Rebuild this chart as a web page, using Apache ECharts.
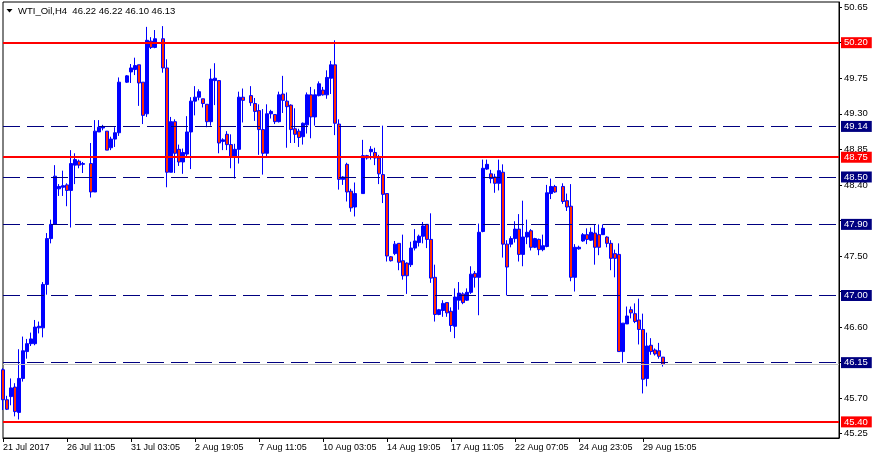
<!DOCTYPE html>
<html>
<head>
<meta charset="utf-8">
<script src="https://cdn.jsdelivr.net/npm/echarts@6/dist/echarts.min.js"></script>
<style>html,body{margin:0;padding:0;background:#fff}#c{width:879px;height:459px}</style>
</head>
<body>
<div id="c"></div>
<script>
// ---- data (H4 bars, left to right; null = no bar drawn) ----
const opens = [46.06,45.68,45.72,45.84,45.52,45.95,46.29,46.39,46.39,46.59,46.59,47.14,47.72,47.90,48.35,48.37,48.40,48.33,48.65,48.70,
48.66,null,48.67,48.31,49.07,49.12,49.08,48.87,48.98,49.06,null,49.70,49.83,49.86,49.92,49.70,49.30,50.22,50.14,null,
50.25,49.88,48.56,49.20,48.85,48.69,48.79,49.07,49.46,49.51,49.49,49.42,49.20,49.72,49.72,48.95,49.04,48.91,48.75,48.85,
49.51,null,49.53,49.43,49.34,49.10,48.80,49.30,49.29,49.20,49.55,49.46,49.41,49.11,49.08,49.01,49.16,49.54,49.26,49.53,
49.60,49.54,49.75,49.92,49.17,48.47,48.66,48.32,48.12,null,48.29,48.77,48.82,48.81,48.74,48.53,48.29,47.49,47.53,47.66,
47.44,47.41,47.39,47.60,47.67,47.75,47.90,47.71,47.23,46.76,46.81,46.91,46.80,46.61,46.94,47.02,46.94,47.04,47.28,47.23,
47.81,48.60,48.54,48.50,48.42,48.56,47.65,47.65,47.72,47.84,47.52,47.74,47.82,47.61,47.71,47.58,47.62,48.29,48.38,null,
48.38,48.20,48.13,47.23,47.59,47.69,47.77,47.70,47.79,47.77,47.77,47.74,47.66,47.53,47.52,46.29,46.64,46.82,46.77,46.69,
46.57,45.95,46.37,46.31,46.30,46.22];
const highs = [46.08,45.73,45.95,45.89,46.32,46.48,46.45,46.53,46.69,46.67,47.17,47.79,47.96,48.65,48.41,48.58,48.42,48.84,48.80,48.72,
48.69,null,48.93,49.22,49.22,49.16,49.08,49.01,49.13,49.76,null,49.79,49.93,50.01,49.92,49.70,50.40,50.27,50.36,null,
50.41,49.99,49.26,49.23,48.91,48.86,49.27,49.51,49.65,49.61,49.49,49.42,49.87,49.94,49.72,48.99,49.08,49.04,48.92,49.58,
49.62,null,49.65,49.50,49.42,49.36,49.42,49.35,49.29,49.58,49.78,49.57,49.42,49.37,49.11,49.19,49.57,49.64,49.61,49.71,
49.64,49.85,49.97,50.23,49.23,48.51,48.68,48.35,48.43,null,48.97,48.78,48.89,48.87,48.78,49.15,48.29,47.50,47.69,47.66,
47.77,47.42,47.68,47.84,47.77,47.93,47.90,48.04,47.39,46.83,46.94,46.91,46.85,47.09,47.17,47.04,47.09,47.37,47.31,47.91,
48.72,48.72,48.59,48.54,48.72,48.66,47.70,47.75,47.94,48.03,48.20,47.96,47.84,47.73,47.72,47.77,48.40,48.48,48.40,null,
48.42,48.29,48.41,47.65,47.63,47.79,47.85,47.86,47.90,47.90,47.90,47.75,47.70,47.58,47.66,46.65,46.86,46.86,46.90,46.96,
46.77,46.53,46.46,46.33,46.40,46.22];
const lows = [45.55,45.55,45.61,45.47,45.43,45.91,46.20,46.36,46.37,46.52,46.47,47.01,47.66,47.90,48.26,48.26,48.13,47.86,48.41,48.61,
48.55,null,48.24,48.31,49.07,49.09,48.84,48.84,48.88,49.02,null,49.69,49.69,49.79,49.40,49.17,49.26,50.12,50.13,null,
49.82,48.37,48.56,48.55,48.64,48.54,48.75,48.60,49.28,49.47,49.38,49.13,49.15,49.41,48.80,48.84,48.84,48.61,48.48,48.67,
49.19,null,49.40,49.21,48.78,48.53,48.75,49.24,49.17,49.19,49.31,48.87,48.93,48.93,48.88,48.91,49.05,48.99,49.15,49.52,
49.53,49.49,49.55,49.03,48.34,48.40,48.19,48.06,48.00,null,48.29,48.72,48.72,48.65,48.41,48.17,47.43,47.43,47.51,47.32,
47.20,47.02,47.36,47.57,47.62,47.66,47.60,47.16,46.67,46.75,46.73,46.73,46.54,46.46,46.82,46.89,46.93,47.02,47.10,46.75,
47.80,48.59,48.42,48.30,48.33,47.48,47.00,47.61,47.67,47.43,47.37,47.65,47.57,47.60,47.51,47.56,47.61,48.22,48.30,null,
48.16,48.07,47.18,47.05,47.58,47.68,47.65,47.69,47.39,47.51,47.77,47.61,47.32,47.23,46.29,46.15,46.64,46.71,46.65,46.38,
45.76,45.85,46.25,46.24,46.20,46.10];
const closes = [45.68,45.56,45.83,45.53,45.95,46.30,46.39,46.45,46.60,46.61,47.14,47.72,47.90,48.51,48.38,48.39,48.33,48.67,48.72,48.65,
48.67,null,48.31,49.08,49.13,49.14,48.84,48.98,49.06,49.70,null,49.78,49.88,49.91,49.69,49.28,50.23,50.14,50.25,null,
49.88,48.56,49.20,48.80,48.69,48.81,49.07,49.46,49.51,49.58,49.43,49.20,49.74,49.75,48.93,48.97,48.91,48.75,48.85,49.51,
49.47,null,49.44,49.33,49.10,48.80,49.30,49.33,49.20,49.54,49.47,49.39,49.10,49.04,49.00,49.18,49.54,49.26,49.54,49.68,
49.54,49.76,49.92,49.18,48.47,48.50,48.31,48.11,48.29,null,48.77,48.74,48.85,48.74,48.54,48.28,47.50,47.44,47.65,47.42,
47.25,47.25,47.60,47.69,47.75,47.88,47.71,47.22,46.76,46.82,46.90,46.78,46.62,46.98,47.03,46.91,47.04,47.27,47.23,47.80,
48.61,48.66,48.48,48.42,48.58,47.65,47.36,47.72,47.84,47.52,47.74,47.80,47.61,47.72,47.58,47.63,48.30,48.38,48.31,null,
48.19,48.12,47.23,47.61,47.61,47.77,47.71,47.80,47.61,47.61,47.85,47.66,47.47,47.47,46.29,46.65,46.74,46.78,46.67,46.57,
45.94,46.36,46.29,46.26,46.23,46.13];

const xTickLabels = ['21 Jul 2017','26 Jul 11:05','31 Jul 03:05','2 Aug 19:05','7 Aug 11:05','10 Aug 03:05',
  '14 Aug 19:05','17 Aug 11:05','22 Aug 07:05','24 Aug 23:05','29 Aug 15:05'];
const xTickEvery = 16;           // bars between time labels
const slotCount = 210;           // bar slots visible across the chart
const yTickValues = [45.25,45.70,46.15,46.60,47.05,47.50,47.95,48.40,48.85,49.30,49.75,50.20,50.65];
const redLevels = [50.20,48.75,45.40];
const dashedLevels = [49.14,48.50,47.90,47.00,46.15];
const bidPrice = 46.13;
const headerText = 'WTI_Oil,H4  46.22 46.22 46.10 46.13';
const yMin = 45.196, yMax = 50.715;

// ---- build ----
const FONT = '"Liberation Sans", Arial, sans-serif';
const categories = Array.from({length: slotCount}, (_, i) => String(i));
const candleData = opens.map((o, i) => o === null ? ['-','-','-','-'] : [o, closes[i], lows[i], highs[i]]);
const isTick = (i) => i % xTickEvery === 0 && i / xTickEvery < xTickLabels.length;
const allLevels = redLevels.concat(dashedLevels);
// scale labels lying under a level's price box are covered in the original
const coveredByBox = (v) => allLevels.some(l => Math.abs(l - v) < 0.06);

function levelLine(v, color, type, width, showLabel) {
  return {
    yAxis: v,
    lineStyle: {color: color, type: type, width: width},
    label: showLabel ? {
      show: true, position: 'end', distance: 2,
      formatter: v.toFixed(2), color: '#fff', backgroundColor: color,
      fontFamily: FONT, fontSize: 9.5, lineHeight: 10, padding: [1,4,0,3]
    } : {show: false}
  };
}

const markData = [levelLine(bidPrice, '#c0c0c0', 'solid', 1, false)]
  .concat(dashedLevels.map(v => levelLine(v, '#000080', [17,7], 1, true)))
  .concat(redLevels.map(v => levelLine(v, '#ff0000', 'solid', 2, true)));

const chart = echarts.init(document.getElementById('c'), null, {renderer: 'canvas'});
chart.setOption({
  animation: false,
  backgroundColor: '#fff',
  grid: {left: 3, right: 40, top: 2, bottom: 21, show: true, borderColor: '#000', borderWidth: 1,
         backgroundColor: 'transparent', containLabel: false, outerBoundsMode: 'none'},
  xAxis: {
    type: 'category', data: categories, boundaryGap: false,
    axisLine: {show: true, lineStyle: {color: '#000', width: 1}},
    axisTick: {show: true, interval: (i) => isTick(i), length: 4, lineStyle: {color: '#000'}},
    axisLabel: {show: true, interval: (i) => isTick(i), formatter: (v, i) => xTickLabels[i / xTickEvery] || '',
      align: 'left', margin: 5, color: '#000', fontFamily: FONT, fontSize: 9},
    splitLine: {show: false}
  },
  yAxis: {
    type: 'value', position: 'right', min: yMin, max: yMax, scale: true,
    axisLine: {show: true, lineStyle: {color: '#000', width: 1}},
    axisTick: {show: true, customValues: yTickValues, length: 3, lineStyle: {color: '#000'}},
    axisLabel: {show: true, customValues: yTickValues,
      formatter: (v) => coveredByBox(v) && Math.abs(v - 48.85) > 0.01 ? '' : v.toFixed(2),
      margin: 5, color: '#000', fontFamily: FONT, fontSize: 9.5, showMinLabel: true, showMaxLabel: true},
    splitLine: {show: false}
  },
  graphic: [
    {type: 'polygon', shape: {points: [[6.5,9],[12.5,9],[9.5,12.5]]}, style: {fill: '#000'}},
    {type: 'text', x: 18, y: 11, style: {text: headerText, font: '9.5px ' + FONT, fill: '#000', verticalAlign: 'middle'}}
  ],
  series: [
    {
      type: 'candlestick', data: candleData, barWidth: 3, large: false, progressive: 0,
      itemStyle: {color: '#0000ff', color0: '#ff2a00', borderColor: '#0000ff', borderColor0: '#0000ff', borderWidth: 1}
    },
    {
      type: 'line', data: [], z: 5, silent: true,
      markLine: {silent: true, symbol: ['none','none'], animation: false, data: markData}
    }
  ]
});
</script>
</body>
</html>
